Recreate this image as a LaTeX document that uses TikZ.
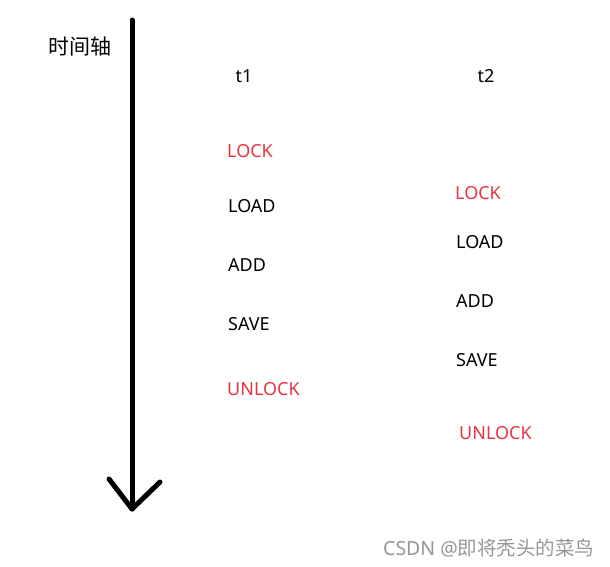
\documentclass[tikz,border=0pt]{standalone}
\usepackage{fontspec}
\setmainfont{Noto Sans}
\newfontfamily\cjk{Noto Sans CJK SC}
\definecolor{lockred}{RGB}{232,52,64}
\definecolor{wmgray}{RGB}{150,150,150}
\begin{document}
\begin{tikzpicture}[x=1pt,y=-1pt,
  op/.style={anchor=west,inner sep=0pt,font=\fontsize{18}{21}\selectfont},
  lockop/.style={op,text=lockred},
  thr/.style={inner sep=0pt,font=\fontsize{18}{21}\selectfont},
  axisline/.style={line width=5pt,line cap=round,line join=round}]
\useasboundingbox (0,0) rectangle (610,567);
\coordinate (top) at (132,20);
\coordinate (tip) at (132,509);
\coordinate (hl) at (109,479);
\coordinate (hr) at (160,482);
\draw[axisline] (top) -- (tip);
\draw[axisline] (hl) -- (tip) -- (hr);
\node[inner sep=0pt,font=\cjk\fontsize{21}{24}\selectfont] (axislabel) at (80,47) {时间轴};
\node[thr] (t1) at (244,76) {t1};
\node[thr] (t2) at (486,76) {t2};
\node[lockop] (l1) at (227,151) {LOCK};
\node[op] (ld1) at (228,206) {LOAD};
\node[op] (a1) at (228,265) {ADD};
\node[op] (s1) at (228,324) {SAVE};
\node[lockop] (u1) at (227,389) {UNLOCK};
\node[lockop] (l2) at (455,193) {LOCK};
\node[op] (ld2) at (456,242) {LOAD};
\node[op] (a2) at (456,301) {ADD};
\node[op] (s2) at (456,360) {SAVE};
\node[lockop] (u2) at (459,433) {UNLOCK};
\node[anchor=west,inner sep=0pt,text=wmgray,font=\fontsize{19.5}{22}\selectfont] (wm) at (383,548) {CSDN @{\cjk 即将秃头的菜鸟}};
\end{tikzpicture}
\end{document}
